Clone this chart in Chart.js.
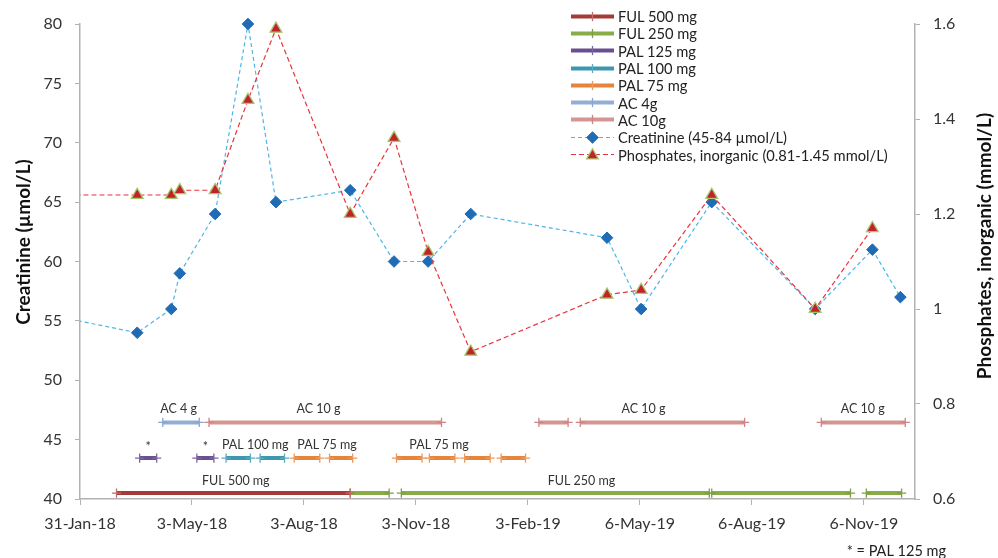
<!DOCTYPE html>
<html><head><meta charset="utf-8">
<script src="https://cdn.jsdelivr.net/npm/chart.js@4.4.1/dist/chart.umd.min.js"></script>
<style>
html,body{margin:0;padding:0;background:#fff;}
#wrap{position:relative;width:998px;height:558px;overflow:hidden;}
#legend{position:absolute;left:571px;top:7.5px;font:14.7px Lato, sans-serif;color:#222;}
.li{display:flex;align-items:center;height:17.3px;white-space:nowrap;}
.li canvas{margin-right:4px;display:block;}
</style></head><body>
<div id="wrap"><canvas id="c" width="998" height="558"></canvas><div id="legend"></div></div>
<script>
// ---------- data ----------
const ORIGIN = '2018-01-31';
const xTickDates  = ['2018-01-31','2018-05-03','2018-08-03','2018-11-03','2019-02-03','2019-05-06','2019-08-06','2019-11-06'];
const xTickLabels = ['31-Jan-18','3-May-18','3-Aug-18','3-Nov-18','3-Feb-19','6-May-19','6-Aug-19','6-Nov-19'];
const xEndDate = '2019-12-18';

const labDates = ['2018-01-01','2018-03-19','2018-04-16','2018-04-23','2018-05-22','2018-06-18','2018-07-11',
  '2018-09-10','2018-10-16','2018-11-13','2018-12-18','2019-04-09','2019-05-07','2019-07-04','2019-09-27','2019-11-13','2019-12-06'];
const creatinine = [55.6,54,56,59,64,80,65,66,60,60,64,62,56,65,56,61,57];
const phosphates = [1.24,1.24,1.24,1.25,1.25,1.44,1.59,1.20,1.36,1.12,0.91,1.03,1.04,1.24,1.00,1.17,null];

const ful500 = [['2018-03-02','2018-09-10']];
const ful250 = [['2018-09-10','2018-10-12'],['2018-10-22','2019-07-02'],['2019-07-04','2019-10-26'],['2019-11-08','2019-12-07']];
const pal125 = [['2018-03-21','2018-04-04'],['2018-05-07','2018-05-21']];
const pal100 = [['2018-05-31','2018-06-20'],['2018-06-28','2018-07-18']];
const pal75  = [['2018-07-26','2018-08-16'],['2018-08-24','2018-09-12'],['2018-10-18','2018-11-08'],['2018-11-14','2018-12-05'],['2018-12-13','2019-01-03'],['2019-01-12','2019-02-01']];
const ac4    = [['2018-04-09','2018-05-09']];
const ac10   = [['2018-05-17','2018-11-24'],['2019-02-12','2019-03-08'],['2019-03-18','2019-07-31'],['2019-10-02','2019-12-10']];

const rowLevel = {ac: 46.45, pal: 43.45, ful: 40.5};
const barLabels = [
  {text:'AC 4 g', date:'2018-04-22', row:'ac'},
  {text:'AC 10 g', date:'2018-08-15', row:'ac'},
  {text:'AC 10 g', date:'2019-05-09', row:'ac'},
  {text:'AC 10 g', date:'2019-11-05', row:'ac'},
  {text:'*', date:'2018-03-28', row:'pal'},
  {text:'*', date:'2018-05-14', row:'pal'},
  {text:'PAL 100 mg', date:'2018-06-24', row:'pal'},
  {text:'PAL 75 mg', date:'2018-08-22', row:'pal'},
  {text:'PAL 75 mg', date:'2018-11-22', row:'pal'},
  {text:'FUL 500 mg', date:'2018-06-08', row:'ful'},
  {text:'FUL 250 mg', date:'2019-03-19', row:'ful'}
];
const footnote = '* = PAL 125 mg';
const leftTitle = 'Creatinine (µmol/L)';
const rightTitle = 'Phosphates, inorganic (mmol/L)';

// ---------- helpers ----------
const day = s => (Date.parse(s + 'T00:00:00Z') - Date.parse(ORIGIN + 'T00:00:00Z')) / 864e5;
function segData(pairs, level) {
  const out = [];
  pairs.forEach(([a, b]) => {
    out.push({x: day(a), y: level}, {x: day(b), y: level}, {x: day(b), y: null});
  });
  return out;
}
const FONT = 'Lato, "Open Sans", sans-serif';

const barDefs = [
  {label:'FUL 500 mg', data:ful500, row:'ful', color:'#A33C39', mark:'#C36C69'},
  {label:'FUL 250 mg', data:ful250, row:'ful', color:'#88AC47', mark:'#7F9F42'},
  {label:'PAL 125 mg', data:pal125, row:'pal', color:'#6A4F91', mark:'#7E68A2'},
  {label:'PAL 100 mg', data:pal100, row:'pal', color:'#3C97AF', mark:'#5FAAC0'},
  {label:'PAL 75 mg',  data:pal75,  row:'pal', color:'#E6843C', mark:'#E99A5E'},
  {label:'AC 4g',      data:ac4,    row:'ac',  color:'#93AED6', mark:'#8AA5CF'},
  {label:'AC 10g',     data:ac10,   row:'ac',  color:'#D49594', mark:'#CC8584'}
];

const creatColor = '#4CB6E6', creatMark = '#1F6BB5';
const phosColor = '#E8353C', phosMark = '#C0232A', phosMarkBorder = '#A9C46E';
const labClip = {left:0, top:10, right:10, bottom:0};

const datasets = [
  {label:'Phosphates, inorganic (0.81-1.45 mmol/L)', yAxisID:'y1',
   data: labDates.map((d,i)=>({x:day(d), y:phosphates[i]})),
   borderColor:phosColor, borderWidth:1.2, borderDash:[5,3], fill:false, tension:0, spanGaps:false, clip:labClip,
   pointStyle:'triangle', pointRadius:6.8, pointBackgroundColor:phosMark, pointBorderColor:phosMarkBorder, pointBorderWidth:1.3,
   kind:'phos'},
  {label:'Creatinine (45-84 µmol/L)', yAxisID:'y',
   data: labDates.map((d,i)=>({x:day(d), y:creatinine[i]})),
   borderColor:creatColor, borderWidth:1.2, borderDash:[4,3], fill:false, tension:0, clip:labClip,
   pointStyle:'rectRot', pointRadius:5.8, pointBackgroundColor:creatMark, pointBorderColor:creatMark, pointBorderWidth:1,
   kind:'creat'}
].concat(barDefs.map(b => ({
  label:b.label, yAxisID:'y', data:segData(b.data, rowLevel[b.row]),
  borderColor:b.color, borderWidth:4, borderCapStyle:'butt', fill:false, tension:0, spanGaps:false,
  pointStyle:'cross', pointRadius:4.6, pointBorderColor:b.mark, pointBackgroundColor:b.mark, pointBorderWidth:1.3,
  kind:'bar', markColor:b.mark
})));

// ---------- custom text plugin ----------
const textPlugin = {
  id:'texts',
  afterDatasetsDraw(chart) {
    const ctx = chart.ctx, xs = chart.scales.x, ys = chart.scales.y;
    ctx.save();
    ctx.fillStyle = '#333';
    ctx.font = '12.5px ' + FONT;
    ctx.textAlign = 'center';
    ctx.textBaseline = 'alphabetic';
    barLabels.forEach(l => {
      const px = xs.getPixelForValue(day(l.date));
      const py = ys.getPixelForValue(rowLevel[l.row]) - (l.row === 'ful' ? 8 : 9.5);
      ctx.fillText(l.text, px, l.text === '*' ? py + 2 : py);
    });
    // footnote
    ctx.font = '14.5px ' + FONT;
    ctx.textAlign = 'right';
    ctx.fillStyle = '#222';
    ctx.fillText(footnote, 946, 555.5);
    // axis titles
    ctx.font = 'bold 19px ' + FONT;
    ctx.fillStyle = '#111';
    ctx.textAlign = 'center';
    ctx.textBaseline = 'middle';
    ctx.save(); ctx.translate(24, 242); ctx.rotate(-Math.PI/2); ctx.fillText(leftTitle, 0, 0); ctx.restore();
    ctx.save(); ctx.translate(985, 246); ctx.rotate(-Math.PI/2); ctx.fillText(rightTitle, 0, 0); ctx.restore();
    ctx.restore();
  }
};

const axisColor = '#B2B2B2';
const tickFont = {family: FONT, size: 16};

const chart = new Chart(document.getElementById('c'), {
  type:'line',
  data:{datasets},
  options:{
    responsive:false, animation:false, events:[],
    layout:{padding:{top:24, left:0, right:0, bottom:0}},
    plugins:{legend:{display:false}, tooltip:{enabled:false}, title:{display:false}},
    scales:{
      x:{type:'linear', min:0, max:day(xEndDate),
         afterBuildTicks: s => { s.ticks = xTickDates.map(d => ({value: day(d)})); },
         ticks:{callback:(v,i)=>xTickLabels[i], font:tickFont, color:'#333', padding:9, maxRotation:0, autoSkip:false},
         grid:{display:true, drawOnChartArea:false, drawTicks:true, tickLength:6, color:axisColor},
         border:{display:true, color:axisColor, width:1.5},
         afterFit: s => { s.height = 59; }},
      y:{position:'left', min:40, max:80,
         ticks:{stepSize:5, font:tickFont, color:'#333', padding:13},
         grid:{display:true, drawOnChartArea:false, drawTicks:true, tickLength:5, color:axisColor},
         border:{display:true, color:axisColor, width:1.5},
         afterFit: s => { s.width = 80; }},
      y1:{position:'right', min:0.6, max:1.6,
         ticks:{stepSize:0.2, font:tickFont, color:'#333', padding:13,
                callback: v => String(Number(v.toFixed(2)))},
         grid:{display:true, drawOnChartArea:false, drawTicks:true, tickLength:5, color:axisColor},
         border:{display:true, color:axisColor, width:1.5},
         afterFit: s => { s.width = 83; }}
    }
  },
  plugins:[textPlugin]
});

// ---------- HTML legend ----------
const legendOrder = ['FUL 500 mg','FUL 250 mg','PAL 125 mg','PAL 100 mg','PAL 75 mg','AC 4g','AC 10g',
  'Creatinine (45-84 µmol/L)','Phosphates, inorganic (0.81-1.45 mmol/L)'];
const legendEl = document.getElementById('legend');
legendOrder.forEach(name => {
  const ds = datasets.find(d => d.label === name);
  const row = document.createElement('div'); row.className = 'li';
  const cv = document.createElement('canvas'); cv.width = 43; cv.height = 17;
  const g = cv.getContext('2d');
  const cy = 8.5, cx = 21.5;
  if (ds.kind === 'bar') {
    g.strokeStyle = ds.borderColor; g.lineWidth = 4;
    g.beginPath(); g.moveTo(0, cy); g.lineTo(43, cy); g.stroke();
    g.strokeStyle = ds.markColor; g.lineWidth = 1.3;
    g.beginPath(); g.moveTo(cx, cy - 4.6); g.lineTo(cx, cy + 4.6); g.stroke();
  } else {
    g.strokeStyle = ds.borderColor; g.lineWidth = 1.2; g.setLineDash(ds.borderDash);
    g.beginPath(); g.moveTo(0, cy); g.lineTo(43, cy); g.stroke();
    g.setLineDash([]);
    g.fillStyle = ds.pointBackgroundColor; g.strokeStyle = ds.pointBorderColor; g.lineWidth = ds.pointBorderWidth;
    Chart.helpers.drawPoint(g, {pointStyle: ds.pointStyle, radius: ds.pointRadius, borderWidth: ds.pointBorderWidth, rotation: 0}, cx, cy + (ds.kind==='phos'?1:0));
  }
  const sp = document.createElement('span'); sp.textContent = name;
  row.appendChild(cv); row.appendChild(sp);
  legendEl.appendChild(row);
});
</script>
</body></html>
